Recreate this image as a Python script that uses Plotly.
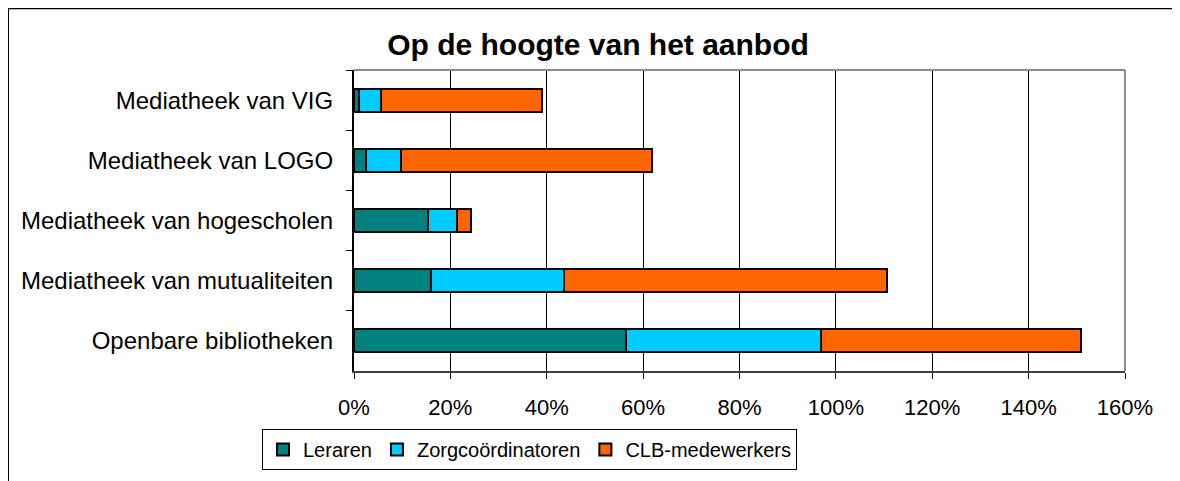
import plotly.graph_objects as go

# categories, top to bottom as shown
categories = [
    "Mediatheek van VIG",
    "Mediatheek van LOGO",
    "Mediatheek van hogescholen",
    "Mediatheek van mutualiteiten",
    "Openbare bibliotheken",
]
leraren = [1.0, 2.5, 15.4, 16.0, 56.4]
zorgcoordinatoren = [4.5, 7.3, 5.9, 27.6, 40.6]
clb_medewerkers = [33.6, 52.0, 2.9, 67.1, 53.8]

series = [
    ("Leraren", leraren, "#008080"),
    ("Zorgcoördinatoren", zorgcoordinatoren, "#00CCFF"),
    ("CLB-medewerkers", clb_medewerkers, "#FF6600"),
]

x_ticks = [0, 20, 40, 60, 80, 100, 120, 140, 160]
x_ticklabels = [f"{t}%" for t in x_ticks]

FONT = "Liberation Sans, Arial, sans-serif"

fig = go.Figure()
for name, vals, color in series:
    fig.add_trace(
        go.Bar(
            y=categories,
            x=vals,
            name=name,
            orientation="h",
            width=0.38,
            marker=dict(color=color, line=dict(color="black", width=2)),
        )
    )

# page body has an 8px margin, so work in shifted pixel coords
OFF = 8
W, H = 1180 - OFF, 481 - OFF
# plot area in screen px: x 354..1125, y 70..372
L, T = 354 - OFF, 70 - OFF
R = W - (1125 - OFF)
B = H - (372 - OFF)
pw, ph = W - L - R, H - T - B


def px_x(px):
    return (px - OFF - L) / pw


def px_y(py):
    return (H - B - (py - OFF)) / ph


fig.update_layout(
    width=W,
    height=H,
    barmode="stack",
    plot_bgcolor="white",
    paper_bgcolor="white",
    margin=dict(l=L, r=R, t=T, b=B),
    font=dict(family=FONT, size=22, color="black"),
    title=dict(
        text="<b>Op de hoogte van het aanbod</b>",
        x=(598 - OFF) / W,
        xanchor="center",
        y=1 - (44 - OFF) / H,
        yanchor="middle",
        font=dict(size=30, family=FONT, color="black"),
    ),
    xaxis=dict(
        range=[0, 160],
        tickvals=x_ticks,
        ticktext=x_ticklabels,
        showgrid=True,
        gridcolor="black",
        gridwidth=1,
        zeroline=False,
        showline=True,
        linecolor="#404040",
        linewidth=2,
        ticks="outside",
        ticklen=6,
        tickcolor="black",
        ticklabelstandoff=10,
        tickfont=dict(size=22),
    ),
    yaxis=dict(
        categoryorder="array",
        categoryarray=categories,
        autorange="reversed",
        showgrid=False,
        zeroline=False,
        showline=True,
        linecolor="black",
        linewidth=2,
        ticks="outside",
        tickson="boundaries",
        ticklen=6,
        tickcolor="black",
        ticklabelstandoff=14,
        tickfont=dict(size=24),
    ),
    legend=dict(
        orientation="h",
        traceorder="normal",
        x=px_x(262),
        xanchor="left",
        y=px_y(429),
        yanchor="top",
        bordercolor="black",
        borderwidth=1,
        font=dict(size=20),
        itemwidth=30,
        tracegroupgap=0,
    ),
    shapes=[
        # grey plot area border (top and right)
        dict(type="line", xref="paper", yref="paper", x0=0, x1=1, y0=1, y1=1,
             line=dict(color="#8c8c8c", width=2)),
        dict(type="line", xref="paper", yref="paper", x0=1, x1=1, y0=0, y1=1,
             line=dict(color="#8c8c8c", width=2)),
        # outer chart frame
        dict(type="rect", xref="paper", yref="paper",
             x0=px_x(8), x1=px_x(1195), y0=px_y(500), y1=px_y(8),
             line=dict(color="black", width=2)),
    ],
)

fig.write_html("out.html")
